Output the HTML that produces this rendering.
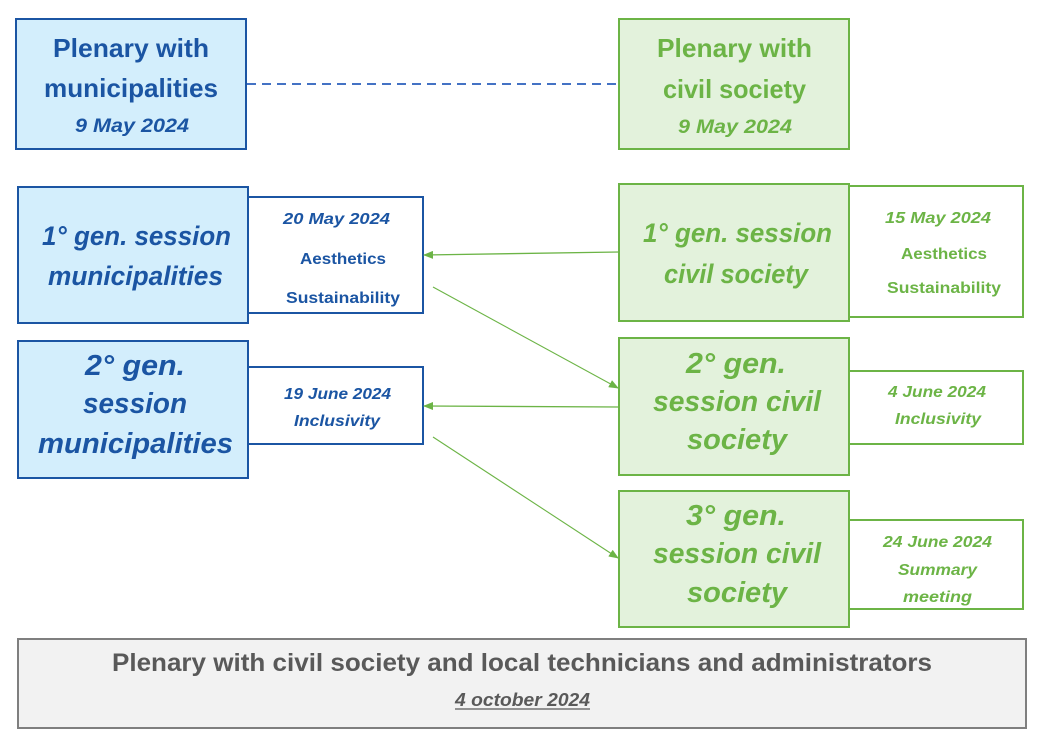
<!DOCTYPE html>
<html><head><meta charset="utf-8"><style>
html,body{margin:0;padding:0;background:#fff;}
svg{display:block;}
text{font-family:"Liberation Sans",sans-serif;font-weight:bold;}
.b{fill:#1b55a3;}
.g{fill:#6cb446;}
.i{font-style:italic;}
</style></head><body>
<svg width="1043" height="741" viewBox="0 0 1043 741" xmlns="http://www.w3.org/2000/svg">
<defs>
<marker id="ah" markerWidth="10" markerHeight="8" refX="9" refY="4" orient="auto" markerUnits="userSpaceOnUse">
<path d="M0,0 L10,4 L0,8 z" fill="#6cb446"/>
</marker>
</defs>

<!-- dashed connector -->
<line x1="247" y1="84" x2="619" y2="84" stroke="#4472c4" stroke-width="2" stroke-dasharray="9,6"/>

<!-- Box A -->
<rect x="16" y="19" width="230" height="130" fill="#d3eefc" stroke="#1b55a3" stroke-width="2"/>
<text class="b" x="53" y="57" font-size="26" textLength="156" lengthAdjust="spacingAndGlyphs">Plenary with</text>
<text class="b" x="44" y="97" font-size="26" textLength="174" lengthAdjust="spacingAndGlyphs">municipalities</text>
<text class="b i" x="75" y="132" font-size="19" textLength="114" lengthAdjust="spacingAndGlyphs">9 May 2024</text>

<!-- Box B -->
<rect x="619" y="19" width="230" height="130" fill="#e3f2dc" stroke="#6cb446" stroke-width="2"/>
<text class="g" x="657" y="57" font-size="26" textLength="155" lengthAdjust="spacingAndGlyphs">Plenary with</text>
<text class="g" x="663" y="98" font-size="26" textLength="143" lengthAdjust="spacingAndGlyphs">civil society</text>
<text class="g i" x="678" y="133" font-size="19" textLength="114" lengthAdjust="spacingAndGlyphs">9 May 2024</text>

<!-- Box C -->
<rect x="18" y="187" width="230" height="136" fill="#d3eefc" stroke="#1b55a3" stroke-width="2"/>
<text class="b i" x="42" y="245" font-size="27" textLength="189" lengthAdjust="spacingAndGlyphs">1° gen. session</text>
<text class="b i" x="48" y="285" font-size="27" textLength="175" lengthAdjust="spacingAndGlyphs">municipalities</text>
<rect x="248" y="197" width="175" height="116" fill="#fff" stroke="#1b55a3" stroke-width="2"/>
<text class="b i" x="283" y="224" font-size="16" textLength="107" lengthAdjust="spacingAndGlyphs">20 May 2024</text>
<text class="b" x="300" y="264" font-size="16" textLength="86" lengthAdjust="spacingAndGlyphs">Aesthetics</text>
<text class="b" x="286" y="303" font-size="16" textLength="114" lengthAdjust="spacingAndGlyphs">Sustainability</text>

<!-- Box D -->
<rect x="619" y="184" width="230" height="137" fill="#e3f2dc" stroke="#6cb446" stroke-width="2"/>
<text class="g i" x="643" y="242" font-size="27" textLength="189" lengthAdjust="spacingAndGlyphs">1° gen. session</text>
<text class="g i" x="664" y="283" font-size="27" textLength="144" lengthAdjust="spacingAndGlyphs">civil society</text>
<rect x="849" y="186" width="174" height="131" fill="#fff" stroke="#6cb446" stroke-width="2"/>
<text class="g i" x="885" y="223" font-size="16" textLength="106" lengthAdjust="spacingAndGlyphs">15 May 2024</text>
<text class="g" x="901" y="259" font-size="16" textLength="86" lengthAdjust="spacingAndGlyphs">Aesthetics</text>
<text class="g" x="887" y="293" font-size="16" textLength="114" lengthAdjust="spacingAndGlyphs">Sustainability</text>

<!-- Box E -->
<rect x="18" y="341" width="230" height="137" fill="#d3eefc" stroke="#1b55a3" stroke-width="2"/>
<text class="b i" x="85" y="375" font-size="29" textLength="100" lengthAdjust="spacingAndGlyphs">2° gen.</text>
<text class="b i" x="83" y="413" font-size="29" textLength="104" lengthAdjust="spacingAndGlyphs">session</text>
<text class="b i" x="38" y="453" font-size="29" textLength="195" lengthAdjust="spacingAndGlyphs">municipalities</text>
<rect x="248" y="367" width="175" height="77" fill="#fff" stroke="#1b55a3" stroke-width="2"/>
<text class="b i" x="284" y="399" font-size="16" textLength="107" lengthAdjust="spacingAndGlyphs">19 June 2024</text>
<text class="b i" x="294" y="426" font-size="16" textLength="86" lengthAdjust="spacingAndGlyphs">Inclusivity</text>

<!-- Box F -->
<rect x="619" y="338" width="230" height="137" fill="#e3f2dc" stroke="#6cb446" stroke-width="2"/>
<text class="g i" x="686" y="373" font-size="29" textLength="100" lengthAdjust="spacingAndGlyphs">2° gen.</text>
<text class="g i" x="653" y="411" font-size="29" textLength="168" lengthAdjust="spacingAndGlyphs">session civil</text>
<text class="g i" x="687" y="449" font-size="29" textLength="100" lengthAdjust="spacingAndGlyphs">society</text>
<rect x="849" y="371" width="174" height="73" fill="#fff" stroke="#6cb446" stroke-width="2"/>
<text class="g i" x="888" y="397" font-size="16" textLength="98" lengthAdjust="spacingAndGlyphs">4 June 2024</text>
<text class="g i" x="895" y="424" font-size="16" textLength="86" lengthAdjust="spacingAndGlyphs">Inclusivity</text>

<!-- Box G -->
<rect x="619" y="491" width="230" height="136" fill="#e3f2dc" stroke="#6cb446" stroke-width="2"/>
<text class="g i" x="686" y="525" font-size="29" textLength="100" lengthAdjust="spacingAndGlyphs">3° gen.</text>
<text class="g i" x="653" y="563" font-size="29" textLength="168" lengthAdjust="spacingAndGlyphs">session civil</text>
<text class="g i" x="687" y="602" font-size="29" textLength="100" lengthAdjust="spacingAndGlyphs">society</text>
<rect x="849" y="520" width="174" height="89" fill="#fff" stroke="#6cb446" stroke-width="2"/>
<text class="g i" x="883" y="547" font-size="16" textLength="109" lengthAdjust="spacingAndGlyphs">24 June 2024</text>
<text class="g i" x="898" y="575" font-size="16" textLength="79" lengthAdjust="spacingAndGlyphs">Summary</text>
<text class="g i" x="903" y="602" font-size="16" textLength="69" lengthAdjust="spacingAndGlyphs">meeting</text>

<!-- arrows -->
<line x1="619" y1="252" x2="424" y2="255" stroke="#6cb446" stroke-width="1.3" marker-end="url(#ah)"/>
<line x1="433" y1="287" x2="618" y2="388" stroke="#6cb446" stroke-width="1.1" marker-end="url(#ah)"/>
<line x1="619" y1="407" x2="424" y2="406" stroke="#6cb446" stroke-width="1.3" marker-end="url(#ah)"/>
<line x1="433" y1="437" x2="618" y2="558" stroke="#6cb446" stroke-width="1.1" marker-end="url(#ah)"/>

<!-- bottom box -->
<rect x="18" y="639" width="1008" height="89" fill="#f2f2f2" stroke="#7f7f7f" stroke-width="2"/>
<text x="112" y="671" font-size="25" fill="#595959" textLength="820" lengthAdjust="spacingAndGlyphs">Plenary with civil society and local technicians and administrators</text>
<text class="i" x="455" y="706" font-size="18" fill="#595959" textLength="135" lengthAdjust="spacingAndGlyphs">4 october 2024</text>
<line x1="455" y1="709" x2="590" y2="709" stroke="#595959" stroke-width="1.2"/>
</svg>
</body></html>
